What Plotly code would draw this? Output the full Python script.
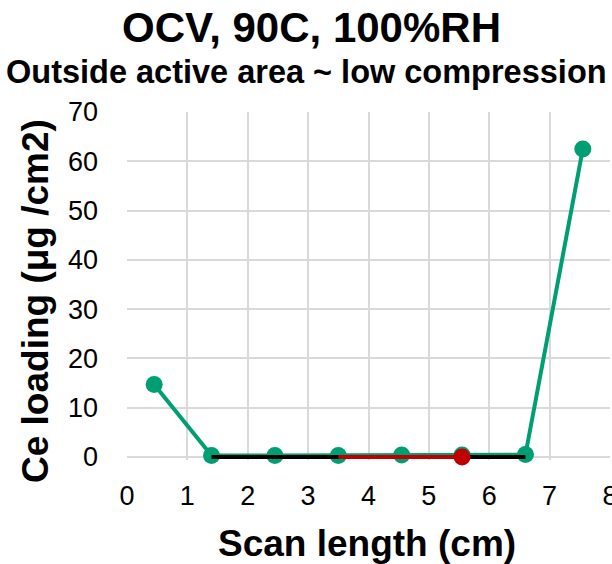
import plotly.graph_objects as go

# Data
x_green = [0.45, 1.4, 2.45, 3.5, 4.55, 5.55, 6.6, 7.55]
y_green = [14.7, 0.3, 0.3, 0.3, 0.4, 0.4, 0.5, 62.5]
x_black = [1.4, 6.6]
y_black = [0, 0]
x_red = [3.5, 5.55]
y_red = [0, 0]
x_red_point = [5.55]
y_red_point = [0]
x_ticks = [0, 1, 2, 3, 4, 5, 6, 7, 8]
y_ticks = [0, 10, 20, 30, 40, 50, 60, 70]

GREEN = "#009E73"
RED = "#C00000"
GRID = "#d9d9d9"
FONT = "Liberation Sans, Arial, sans-serif"

fig = go.Figure()
fig.add_trace(go.Scatter(x=x_green, y=y_green, mode="lines+markers",
                         line=dict(color=GREEN, width=4),
                         marker=dict(color=GREEN, size=17),
                         cliponaxis=False, showlegend=False))
fig.add_trace(go.Scatter(x=x_black, y=y_black, mode="lines",
                         line=dict(color="black", width=4),
                         cliponaxis=False, showlegend=False))
fig.add_trace(go.Scatter(x=x_red, y=y_red, mode="lines",
                         line=dict(color=RED, width=4),
                         cliponaxis=False, showlegend=False))
fig.add_trace(go.Scatter(x=x_red_point, y=y_red_point, mode="markers",
                         marker=dict(color=RED, size=17, line=dict(width=0)),
                         cliponaxis=False, showlegend=False))

W, H = 612, 564
l, r, t, b = 127, 2, 112, 104
pw, ph = W - l - r, H - t - b

fig.update_layout(
    width=W, height=H,
    margin=dict(l=l, r=r, t=t, b=b, autoexpand=False),
    paper_bgcolor="white", plot_bgcolor="white",
    font=dict(family=FONT, color="black"),
    xaxis=dict(range=[0, 8.0001], tickvals=x_ticks, showgrid=True, gridcolor=GRID,
               gridwidth=1.5, zeroline=False, showline=False,
               ticks="", tickfont=dict(size=27, color="black"),
               ticklabelstandoff=17, automargin=False, ticklabeloverflow="allow"),
    yaxis=dict(range=[-0.6, 70.001], tickvals=y_ticks, showgrid=True, gridcolor=GRID,
               gridwidth=1.5, zeroline=True, zerolinecolor=GRID, zerolinewidth=1.5,
               showline=False, ticks="", tickfont=dict(size=27, color="black"),
               ticklabelstandoff=28, automargin=False, ticklabeloverflow="allow"),
)

ann = [
    ("<b>OCV, 90C, 100%RH</b>", 311, 28, 42, 0),
    ("<b>Outside active area ~ low compression</b>", 306, 72, 32.5, 0),
    ("<b>Scan length (cm)</b>", 367, 543, 37, 0),
    ("<b>Ce loading (μg /cm2)</b>", 35, 301, 37, -90),
]
for text, px, py, size, ang in ann:
    fig.add_annotation(text=text, xref="paper", yref="paper",
                       x=(px - l) / pw, y=(H - b - py) / ph,
                       xanchor="center", yanchor="middle", textangle=ang,
                       showarrow=False, font=dict(size=size, color="black"))

fig.write_html("out.html", config={"displayModeBar": False},
               post_script="document.body.style.margin='0';document.body.style.overflow='hidden';")
